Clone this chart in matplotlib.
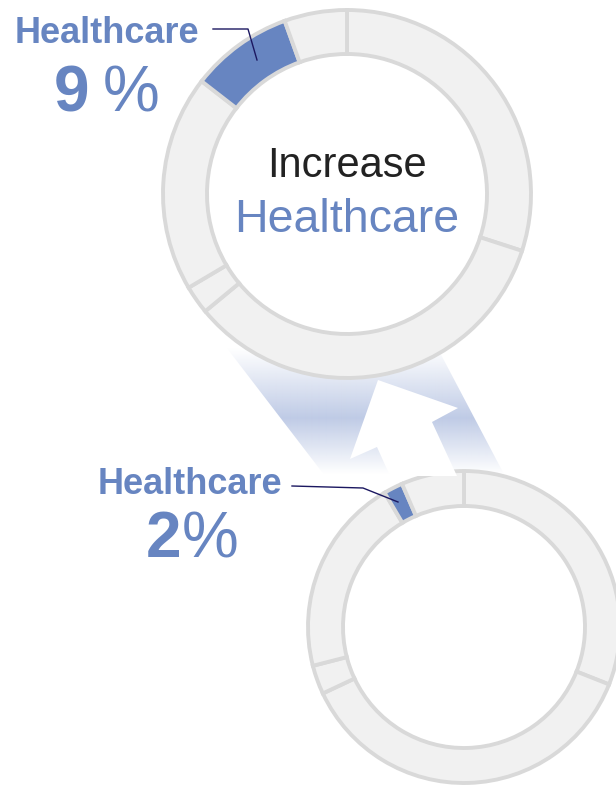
import numpy as np
import matplotlib.pyplot as plt
from matplotlib.patches import Polygon

# sector shares in %, clockwise from 12 o'clock; Healthcare is the highlighted one
sectors = ['A', 'B', 'C', 'D', 'Healthcare', 'E']
current_share = [31, 37, 3, 20.5, 2, 6.5]    # small ring, bottom
target_share = [30, 34, 2.5, 19, 9, 5.5]     # big ring, top
highlight = sectors.index('Healthcare')

BLUE = '#6785c1'
GREY_FILL = '#f1f1f1'
GREY_EDGE = '#d9d9d9'
LEADER = '#1b1760'

W, H = 616, 785
fig = plt.figure(figsize=(W / 100, H / 100), dpi=100)
ax = fig.add_axes([0, 0, 1, 1])

font = 'Liberation Sans'


def ring(values, center, radius, width):
    colors = [BLUE if i == highlight else GREY_FILL for i in range(len(values))]
    # y axis is flipped below, so counterclock=True runs clockwise on screen
    ax.pie(values, colors=colors, center=center, radius=radius,
           startangle=-90, counterclock=True,
           wedgeprops=dict(width=width, edgecolor=GREY_EDGE, linewidth=2.8),
           frame=True)


# shaded band linking the two rings, fading out at both ends
band = Polygon([(213, 330), (428, 330), (505, 476), (325, 476)],
               closed=True, facecolor='none', edgecolor='none')
ax.add_patch(band)
ys = np.linspace(330, 480, 300)
alpha = np.interp(ys, [330, 348, 418, 474, 480], [0, 0, 1, 0, 0])
grad = np.zeros((len(ys), 1, 4))
grad[:, 0, :3] = np.array([191, 203, 230]) / 255
grad[:, 0, 3] = alpha
img = ax.imshow(grad, extent=(200, 520, 480, 330), origin='upper',
                aspect='auto', interpolation='bilinear', zorder=1)
img.set_clip_path(band)

# white arrow pointing from the small ring up to the big one
arrow = Polygon([(378, 380), (458, 408), (432, 422), (457, 476),
                 (390, 476), (377, 447), (350, 459)],
                closed=True, facecolor='white', edgecolor='none', zorder=2)
ax.add_patch(arrow)

ring(target_share, (347, 194), 184, 44)
ring(current_share, (464, 627), 156, 35)

# leader lines to the highlighted wedges
ax.plot([213, 248, 257], [29, 29, 60], color=LEADER, lw=1, zorder=5)
ax.plot([292, 363, 398], [486, 488, 502], color=LEADER, lw=1, zorder=5)

# labels
ax.text(107, 43, 'Healthcare', color=BLUE, fontsize=26, fontweight='bold',
        family=font, ha='center', va='baseline')
ax.text(71, 112, f'{target_share[highlight]:g}', color=BLUE, fontsize=46,
        fontweight='bold', family=font, ha='center', va='baseline')
ax.text(131, 112, '%', color=BLUE, fontsize=46, family=font,
        ha='center', va='baseline')

ax.text(190, 494, 'Healthcare', color=BLUE, fontsize=26, fontweight='bold',
        family=font, ha='center', va='baseline')
ax.text(164, 557, f'{current_share[highlight]:g}', color=BLUE, fontsize=46,
        fontweight='bold', family=font, ha='center', va='baseline')
ax.text(210, 557, '%', color=BLUE, fontsize=46, family=font,
        ha='center', va='baseline')

ax.text(347, 177, 'Increase', color='#222222', fontsize=30, family=font,
        ha='center', va='baseline')
ax.text(347, 232, 'Healthcare', color=BLUE, fontsize=33.5, family=font,
        ha='center', va='baseline')

ax.set_xlim(0, W)
ax.set_ylim(H, 0)
ax.set_aspect('equal')
ax.set_axis_off()

fig.savefig('out.png', dpi=100, facecolor='white')
